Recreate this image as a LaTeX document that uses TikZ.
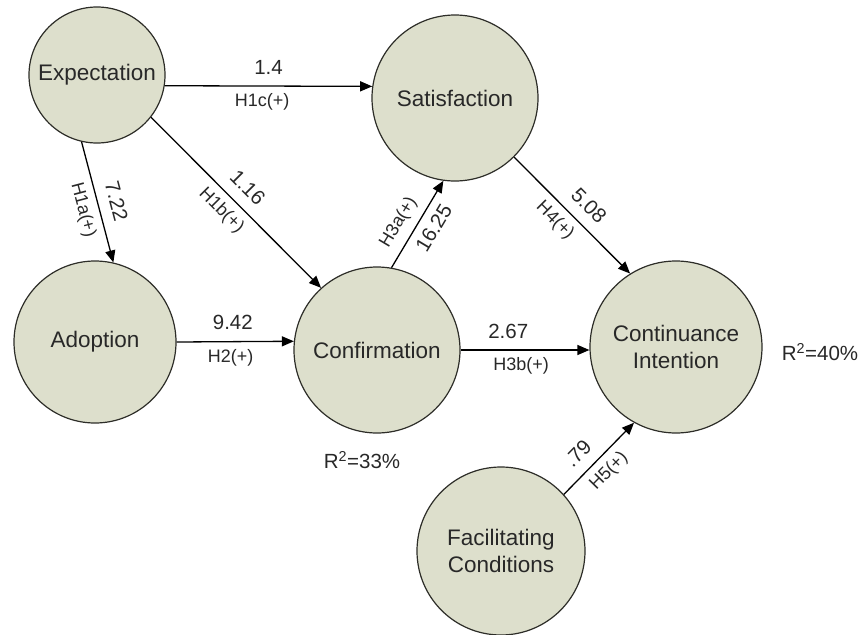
\documentclass[tikz,border=0pt]{standalone}
\usepackage{fontspec}
\setmainfont{Liberation Sans}
\usetikzlibrary{arrows.meta}
\definecolor{nodefill}{RGB}{221,223,204}
\definecolor{nodeline}{RGB}{45,45,40}
\definecolor{txt}{RGB}{40,40,40}
\begin{document}
\begin{tikzpicture}[x=1pt,y=-1pt,
  latent/.style={circle, draw=nodeline, line width=1.2pt, fill=nodefill, inner sep=0pt,
    align=center, text=txt, font=\fontsize{22.5}{27}\selectfont},
  arr/.style={draw=black, line width=1.3pt, -{Triangle[length=12pt,width=10pt]}},
  num/.style={font=\fontsize{20.5}{24}\selectfont, text=txt, sloped, inner sep=2pt, above=9pt},
  hyp/.style={font=\fontsize{18}{21}\selectfont, text=txt, sloped, inner sep=2pt, below=5pt},
  numb/.style={font=\fontsize{20.5}{24}\selectfont, text=txt, sloped, inner sep=2pt, below=6pt},
  hypa/.style={font=\fontsize{18}{21}\selectfont, text=txt, sloped, inner sep=2pt, above=6pt},
  rsq/.style={font=\fontsize{20.5}{24}\selectfont, text=txt, inner sep=0pt}]
\useasboundingbox (0,0) rectangle (863,635);

\node[latent, minimum size=136pt] (exp) at (97,75) {Expectation};
\node[latent, minimum size=166pt] (sat) at (455,98) {Satisfaction};
\node[latent, minimum size=162pt] (adp) at (95,342) {Adoption};
\node[latent, minimum size=166pt] (conf) at (377,350) {Confirmation};
\node[latent, minimum size=172pt] (cont) at (676,347) {Continuance\\Intention};
\node[latent, minimum size=168pt] (fc) at (501,551) {Facilitating\\Conditions};

\node[rsq] (r33) at (362,460) {R\textsuperscript{2}=33\%};
\node[rsq] (r40) at (820,352) {R\textsuperscript{2}=40\%};

% H1c
\draw[arr] (exp.-9) -- (sat.172)
  node[num, pos=0.5] {1.4}
  node[hyp, pos=0.47] {H1c(+)};
% H1a
\draw[arr] (exp.-103) -- (adp.77)
  node[num, pos=0.53] {7.22}
  node[hyp, pos=0.53] {H1a(+)};
% H1b
\draw[arr] (exp.-38) -- (conf.132)
  node[num, pos=0.49] {1.16}
  node[hyp, pos=0.48] {H1b(+)};
% H2
\draw[arr] (adp.east) -- (conf.174)
  node[num, pos=0.48] {9.42}
  node[hyp, pos=0.46] {H2(+)};
% H3a
\draw[arr] (conf.80) -- (sat.-98)
  node[hypa, pos=0.42] {H3a(+)}
  node[numb, pos=0.55] {16.25};
% H4
\draw[arr] (sat.-45) -- (cont.122)
  node[num, pos=0.53] {5.08}
  node[hyp, pos=0.45] {H4(+)};
% H3b
\draw[arr] (conf.east) -- (conf.east -| cont.west)
  node[num, pos=0.37] {2.67}
  node[hyp, pos=0.47] {H3b(+)};
% H5
\draw[arr] (fc.42) -- (cont.-119)
  node[num, pos=0.39] {.79}
  node[hyp, pos=0.48] {H5(+)};
\end{tikzpicture}
\end{document}
